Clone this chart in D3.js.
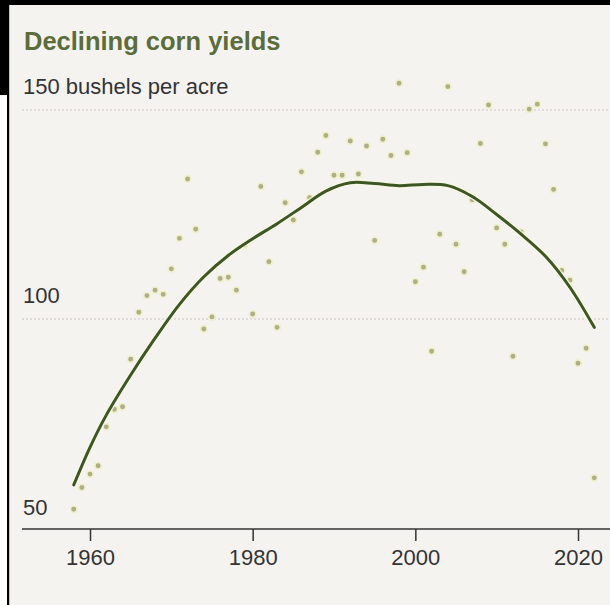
<!DOCTYPE html>
<html>
<head>
<meta charset="utf-8">
<script src="https://cdn.jsdelivr.net/npm/d3@7"></script>
<style>
  html, body { margin: 0; padding: 0; background: #ffffff; }
  svg { display: block; }
  text { font-family: "Liberation Sans", Arial, sans-serif; }
</style>
</head>
<body>
<svg id="chart" width="610" height="605"></svg>
<script>
// ---- data ----
const years = d3.range(1958, 2023);
const yields = [
  54.5, 59.7, 62.9, 64.9, 74.2, 78.4, 79.0, 90.4, 101.6, 105.6,   // 1958-1967
  106.9, 105.9, 112.0, 119.3, 133.5, 121.5, 97.6, 100.5, 109.7, 110.0, // 1968-1977
  106.9, 117.7, 101.2, 131.7, 113.7, 98.0, 127.8, 123.7, 135.2, 129.0, // 1978-1987
  139.9, 143.9, 134.4, 134.4, 142.6, 134.7, 141.4, 118.8, 143.0, 139.1, // 1988-1997
  156.4, 139.8, 108.9, 112.4, 92.3, 120.3, 155.6, 117.9, 111.3, 128.5,  // 1998-2007
  142.0, 151.2, 121.8, 117.9, 91.1, 120.8, 150.2, 151.4, 141.9, 131.0,  // 2008-2017
  111.6, 109.3, 89.4, 93.0, 62.0                                        // 2018-2022
];
const trendYears  = [1958, 1960, 1962, 1965, 1968, 1971, 1974, 1977, 1980, 1983, 1986, 1989, 1992, 1995, 1998, 2001, 2004, 2007, 2010, 2013, 2016, 2019, 2022];
const trendValues = [60.3, 69.3, 77.0, 86.6, 95.4, 103.5, 110.1, 115.2, 119.2, 122.8, 126.7, 130.6, 132.6, 132.4, 131.9, 132.2, 131.9, 129.3, 125.0, 120.3, 115.0, 107.6, 98.0];
const xTicks = [1960, 1980, 2000, 2020];
const yTicks = [50, 100, 150];
const yTickLabels = ["50", "100", "150 bushels per acre"];
const title = "Declining corn yields";

// ---- layout ----
const W = 610, H = 605;
const svg = d3.select("#chart");

// frame
svg.append("rect").attr("x", 0).attr("y", 0).attr("width", W).attr("height", H).attr("fill", "#ffffff");
svg.append("rect").attr("x", 9).attr("y", 5).attr("width", W - 9).attr("height", H - 5).attr("fill", "#f5f3f0");
svg.append("rect").attr("x", 0).attr("y", 0).attr("width", W).attr("height", 5).attr("fill", "#000");
svg.append("rect").attr("x", 0).attr("y", 0).attr("width", 9).attr("height", 95).attr("fill", "#000");
svg.append("rect").attr("x", 7).attr("y", 0).attr("width", 2.2).attr("height", H).attr("fill", "#000");

const x = d3.scaleLinear().domain([1960, 2020]).range([90, 578]);
const y = d3.scaleLinear().domain([50, 150]).range([528, 110]);

// title
svg.append("text")
  .attr("x", 24).attr("y", 50)
  .attr("font-size", 25.5).attr("font-weight", "bold")
  .attr("fill", "#5b6d3a")
  .text(title);

// gridlines (dotted) for 100 and 150
const grid = svg.append("g");
grid.selectAll("line").data(yTicks.filter(d => d > 50)).join("line")
  .attr("x1", 22).attr("x2", W)
  .attr("y1", d => y(d)).attr("y2", d => y(d))
  .attr("stroke", "#c9c6c2").attr("stroke-width", 1.2)
  .attr("stroke-dasharray", "2,2");

// y labels
svg.append("g").selectAll("text").data(yTicks).join("text")
  .attr("x", 23)
  .attr("y", d => y(d) - (d === 50 ? 13 : 16))
  .attr("font-size", 22).attr("fill", "#333")
  .text((d, i) => yTickLabels[i]);

// x axis
const xAxis = d3.axisBottom(x).tickValues(xTicks).tickSize(12).tickPadding(8).tickFormat(d3.format("d"));
const gx = svg.append("g").attr("transform", "translate(0,529)").call(xAxis);
gx.select(".domain").remove();
gx.selectAll(".tick line").attr("stroke", "#333").attr("stroke-width", 1.5);
gx.selectAll(".tick text").attr("font-size", 22).attr("fill", "#333")
  .attr("font-family", "\"Liberation Sans\", Arial, sans-serif");
gx.append("line").attr("x1", 22).attr("x2", W).attr("y1", 0).attr("y2", 0)
  .attr("stroke", "#333").attr("stroke-width", 1.5);

// dots
const pts = years.map((yr, i) => ({ yr, v: yields[i] }));
svg.append("g").selectAll("circle").data(pts).join("circle")
  .attr("cx", d => x(d.yr)).attr("cy", d => y(d.v)).attr("r", 3.2)
  .attr("fill", "#aeae88")
  .attr("stroke", "#eef0c8").attr("stroke-width", 1.5);

// trend line
const trend = trendYears.map((yr, i) => ({ yr, v: trendValues[i] }));
const line = d3.line().x(d => x(d.yr)).y(d => y(d.v)).curve(d3.curveCatmullRom.alpha(0.5));
svg.append("path").datum(trend).attr("d", line)
  .attr("fill", "none").attr("stroke", "#f7f8e4").attr("stroke-width", 6).attr("opacity", 0.8);
svg.append("path").datum(trend).attr("d", line)
  .attr("fill", "none").attr("stroke", "#3e5624").attr("stroke-width", 3)
  .attr("stroke-linecap", "round");
</script>
</body>
</html>
